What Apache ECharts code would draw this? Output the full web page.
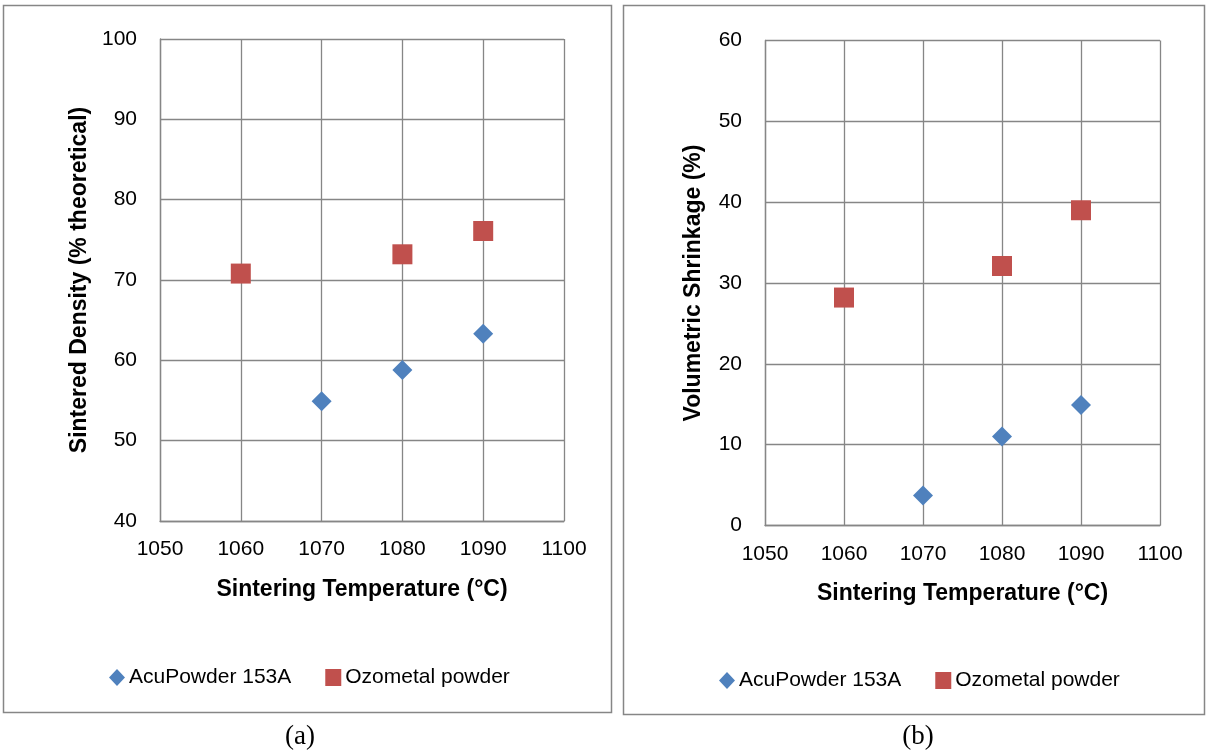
<!DOCTYPE html>
<html>
<head>
<meta charset="utf-8">
<script src="https://cdn.jsdelivr.net/npm/echarts@6/dist/echarts.min.js"></script>
<style>
html,body{margin:0;padding:0;background:#fff;}
#chart{width:1207px;height:753px;}
</style>
</head>
<body>
<div id="chart"></div>
<script>
// Data
const temperatures = [1060, 1070, 1080, 1090];
const xTicks = [1050, 1060, 1070, 1080, 1090, 1100];
const seriesNames = ['AcuPowder 153A', 'Ozometal powder'];
// (a) Sintered density (% theoretical)
const acuDensity = [null, 54.9, 58.8, 63.3];
const ozoDensity = [70.8, null, 73.2, 76.1];
// (b) Volumetric shrinkage (%)
const acuShrink = [null, 3.7, 11.0, 14.9];
const ozoShrink = [28.2, null, 32.1, 39.0];
const xTitle = 'Sintering Temperature (°C)';
const yTitleA = 'Sintered Density (% theoretical)';
const yTitleB = 'Volumetric Shrinkage (%)';
const captions = ['(a)', '(b)'];

function pairs(xs, ys) {
  const out = [];
  xs.forEach((x, i) => { if (ys[i] !== null) out.push([x, ys[i]]); });
  return out;
}

const FONT = '"Liberation Sans", Arial, sans-serif';
const GRID_COLOR = '#868686';
const BLUE = '#4F81BD';
const RED = '#C0504D';

function xAxis(gridIndex) {
  return {
    type: 'value', gridIndex: gridIndex, min: xTicks[0], max: xTicks[xTicks.length - 1], interval: 10,
    axisLine: { show: true, lineStyle: { color: GRID_COLOR, width: 1.3 } },
    axisTick: { show: false },
    splitLine: { show: true, lineStyle: { color: GRID_COLOR, width: 1.3 } },
    axisLabel: { color: '#000', fontFamily: FONT, fontSize: 21, margin: 18, formatter: v => String(v) },
    name: xTitle, nameLocation: 'middle', nameGap: 57,
    nameTextStyle: { color: '#000', fontFamily: FONT, fontSize: 23, fontWeight: 'bold' }
  };
}
function yAxis(gridIndex, min, max, title, gap) {
  return {
    type: 'value', gridIndex: gridIndex, min: min, max: max, interval: 10,
    axisLine: { show: true, lineStyle: { color: GRID_COLOR, width: 1.3 } },
    axisTick: { show: false },
    splitLine: { show: true, lineStyle: { color: GRID_COLOR, width: 1.3 } },
    axisLabel: { color: '#000', fontFamily: FONT, fontSize: 21, margin: 23, formatter: v => String(v) },
    name: title, nameLocation: 'middle', nameGap: gap, nameRotate: 90,
    nameTextStyle: { color: '#000', fontFamily: FONT, fontSize: 23, fontWeight: 'bold' }
  };
}
function legend(left, top) {
  return {
    left: left, top: top, itemWidth: 16, itemHeight: 17, itemGap: 34,
    textStyle: { color: '#000', fontFamily: FONT, fontSize: 21, padding: [0, 0, 0, -1] },
    data: [
      { name: seriesNames[0], icon: 'diamond' },
      { name: seriesNames[1], icon: 'rect' }
    ]
  };
}

const chart = echarts.init(document.getElementById('chart'), null, { renderer: 'canvas' });
chart.setOption({
  backgroundColor: '#fff',
  animation: false,
  grid: [
    { left: 160, top: 39, width: 404, height: 482 },
    { left: 765, top: 40.5, width: 395, height: 485 }
  ],
  xAxis: [xAxis(0), xAxis(1)],
  yAxis: [yAxis(0, 40, 100, yTitleA, 69), yAxis(1, 0, 60, yTitleB, 60)],
  legend: [legend(104, 662), legend(714, 665)],
  series: [
    { name: seriesNames[0], type: 'scatter', xAxisIndex: 0, yAxisIndex: 0, symbol: 'diamond', symbolSize: 20,
      itemStyle: { color: BLUE, opacity: 1 }, data: pairs(temperatures, acuDensity) },
    { name: seriesNames[1], type: 'scatter', xAxisIndex: 0, yAxisIndex: 0, symbol: 'rect', symbolSize: 20,
      itemStyle: { color: RED, opacity: 1 }, data: pairs(temperatures, ozoDensity) },
    { name: seriesNames[0], type: 'scatter', xAxisIndex: 1, yAxisIndex: 1, symbol: 'diamond', symbolSize: 20,
      itemStyle: { color: BLUE, opacity: 1 }, data: pairs(temperatures, acuShrink) },
    { name: seriesNames[1], type: 'scatter', xAxisIndex: 1, yAxisIndex: 1, symbol: 'rect', symbolSize: 20,
      itemStyle: { color: RED, opacity: 1 }, data: pairs(temperatures, ozoShrink) }
  ],
  graphic: [
    { type: 'rect', shape: { x: 3.5, y: 5.5, width: 608, height: 707 }, z: -1,
      style: { fill: null, stroke: '#868686', lineWidth: 1.5 } },
    { type: 'rect', shape: { x: 623.5, y: 5.5, width: 581, height: 709 }, z: -1,
      style: { fill: null, stroke: '#868686', lineWidth: 1.5 } },
    { type: 'text', style: { text: captions[0], x: 300, y: 737, align: 'center', verticalAlign: 'middle',
      font: '27px "Liberation Serif", "Times New Roman", serif', fill: '#000' } },
    { type: 'text', style: { text: captions[1], x: 918, y: 737, align: 'center', verticalAlign: 'middle',
      font: '27px "Liberation Serif", "Times New Roman", serif', fill: '#000' } }
  ]
});
</script>
</body>
</html>
